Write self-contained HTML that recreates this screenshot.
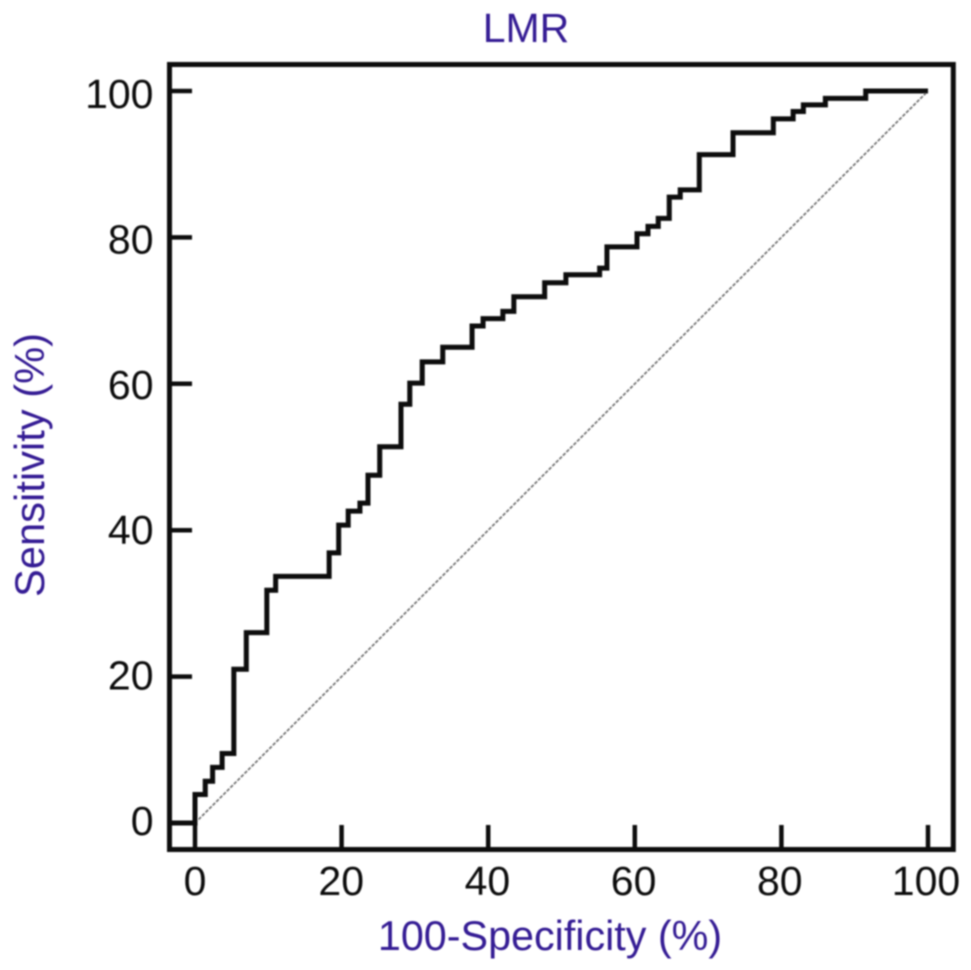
<!DOCTYPE html>
<html lang="en">
<head>
<meta charset="utf-8">
<title>LMR ROC curve</title>
<style>
html,body{margin:0;padding:0;background:#fff;width:971px;height:970px;overflow:hidden}
svg{display:block;font-family:"Liberation Sans",Arial,sans-serif}
</style>
</head>
<body>
<svg id="chart" width="971" height="970" viewBox="0 0 971 970" xmlns="http://www.w3.org/2000/svg">
  <defs><filter id="soft" x="-5%" y="-5%" width="110%" height="110%"><feGaussianBlur stdDeviation="0.75"/></filter></defs>
  <rect width="971" height="970" fill="#fff"/>
  <g id="marks" filter="url(#soft)"></g>
  <g id="labels" filter="url(#soft)">
    <text x="526" y="42" font-size="41" fill="#351a94" text-anchor="middle">LMR</text>
    <text x="550" y="950" font-size="41.3" fill="#351a94" text-anchor="middle">100-Specificity (%)</text>
    <text transform="translate(44,465) rotate(-90)" font-size="41.7" fill="#351a94" text-anchor="middle">Sensitivity (%)</text>
  </g>
</svg>
<script>
const xTicks = [0, 20, 40, 60, 80, 100];
const yTicks = [0, 20, 40, 60, 80, 100];
const rocSpecificity = [-3.5, 0, 1.4, 2.4, 3.7, 5.3, 7, 9.8, 11, 18.3, 19.6, 20.9, 22.5, 23.6, 25.2, 28.1, 29.3, 31, 33.8, 37.8, 39.3, 42, 43.5, 47.7, 50.6, 55.2, 56.2, 60.3, 61.8, 63.2, 64.7, 66.2, 68.8, 73.4, 78.9, 81.6, 83, 86, 91.5, 100];
const rocSensitivity = [0, 3.9, 5.7, 7.6, 9.5, 21, 26, 31.8, 33.7, 36.9, 40.7, 42.6, 43.7, 47.5, 51.4, 57.2, 60.1, 63, 65, 67.9, 68.9, 69.9, 71.9, 73.8, 74.9, 75.8, 78.7, 80.5, 81.5, 82.6, 85.5, 86.5, 91.3, 94.3, 96.2, 97.2, 98.1, 99, 100, 100];
const diagonalX = [0, 100];
const diagonalY = [0, 100];

const NS = 'http://www.w3.org/2000/svg';
const sx = v => 195 + v * 7.33;
const sy = v => 823 - v * 7.32;
const labelX = v => 195 + v * 7.31;
const labelBaseline = v => 835 - v * 7.27;
const marks = document.getElementById('marks');
const labels = document.getElementById('labels');

function make(tag, attrs, parent) {
  const el = document.createElementNS(NS, tag);
  for (const k in attrs) el.setAttribute(k, attrs[k]);
  parent.appendChild(el);
  return el;
}

const frame = make('rect', {x: 169.5, y: 64.5, width: 783.8, height: 785, fill: 'none', stroke: '#0c0c0c', 'stroke-width': 5}, marks);



xTicks.forEach(t => {
  const tick = make('line', {x1: sx(t), x2: sx(t), y1: 849, y2: 825, stroke: '#111', 'stroke-width': 4.5}, marks);
  
  
  const label = make('text', {x: labelX(t), y: 895, 'font-size': 41, fill: '#111', 'text-anchor': 'middle'}, labels);
  
  
  label.textContent = t;
});

yTicks.forEach(t => {
  const tick = make('line', {x1: 169, x2: 192, y1: sy(t), y2: sy(t), stroke: '#111', 'stroke-width': 4.5}, marks);
  
  
  const label = make('text', {x: 153.5, y: labelBaseline(t), 'font-size': 41, fill: '#111', 'text-anchor': 'end'}, labels);
  
  
  label.textContent = t;
});

const diagonal = make('line', {x1: sx(diagonalX[0]), y1: sy(diagonalY[0]), x2: sx(diagonalX[1]), y2: sy(diagonalY[1]), stroke: '#777', 'stroke-width': 1.8, 'stroke-dasharray': '3.5 1.5'}, marks);



let d = 'M' + sx(rocSpecificity[0]) + ' ' + sy(rocSensitivity[0]);
for (let i = 1; i < rocSpecificity.length; i++) {
  d += 'H' + sx(rocSpecificity[i]) + 'V' + sy(rocSensitivity[i]);
}
const curve = make('path', {d: d, fill: 'none', stroke: '#0c0c0c', 'stroke-width': 5, 'stroke-linejoin': 'miter'}, marks);


</script>
</body>
</html>
